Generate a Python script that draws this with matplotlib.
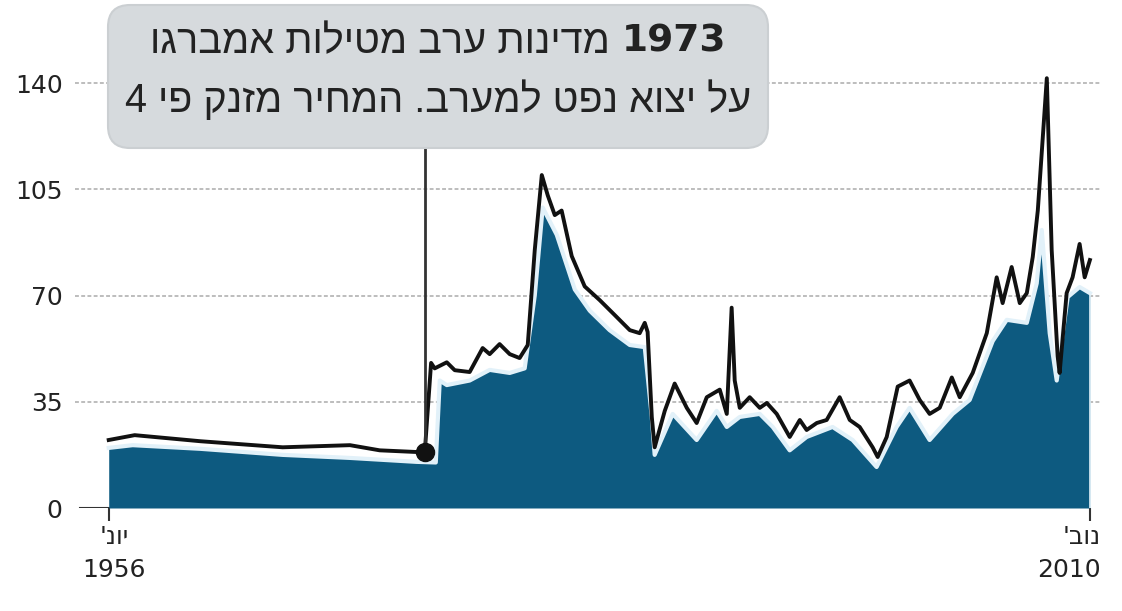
import re
import matplotlib
matplotlib.use('Agg')
import matplotlib.pyplot as plt
from matplotlib.patches import FancyBboxPatch
from matplotlib import font_manager

# oil price, black line
price_years = [1956.42, 1957.86, 1961.5, 1966.07, 1969.8, 1971.45, 1973.67, 1973.95,
               1974.3, 1974.5, 1975.17, 1975.61, 1976.44, 1977.16, 1977.55, 1978.1,
               1978.66, 1979.21, 1979.66, 1980.05, 1980.44, 1980.77, 1981.16, 1981.54,
               1982.1, 1982.82, 1983.65, 1984.48, 1985.32, 1985.87, 1986.15, 1986.31,
               1986.54, 1986.7, 1987.26, 1987.81, 1988.48, 1989.03, 1989.59, 1990.31,
               1990.7, 1990.97, 1991.14, 1991.42, 1991.97, 1992.53, 1992.92, 1993.47,
               1994.19, 1994.75, 1995.13, 1995.69, 1996.24, 1996.96, 1997.52, 1998.07,
               1998.79, 1999.07, 1999.57, 2000.18, 2000.84, 2001.4, 2001.95, 2002.51,
               2003.18, 2003.62, 2004.34, 2005.12, 2005.67, 2006.0, 2006.5, 2006.95,
               2007.34, 2007.67, 2007.95, 2008.45, 2008.72, 2009.05, 2009.16, 2009.55,
               2009.88, 2010.27, 2010.55, 2010.84]
price = [22.4, 24, 22, 20, 20.7, 19, 18.4, 18.4,
         47.8, 46, 48, 45.4, 44.8, 52.7, 50.7, 54,
         50.7, 49.4, 53.7, 85, 109.7, 103, 96.5, 98,
         83, 73, 68.5, 63.6, 58.6, 57.6, 61, 58,
         30, 20, 32, 41, 33, 28, 36.5, 39,
         31, 66, 42, 33, 36.5, 33, 34.6, 31,
         23.4, 29, 25.7, 28, 29, 36.5, 29, 26.7,
         20, 16.8, 23.4, 40, 42, 35.6, 31, 33,
         43, 36.5, 44.5, 57.6, 76, 67.5, 79.4, 67.5,
         70.8, 82.7, 98, 141.6, 85, 50, 44.5, 70.8,
         76, 87, 76, 81.7]

# smoother lower series, the filled area with the white edge
fill_years = [1956.42, 1957.75, 1961.5, 1966.07, 1969.8, 1973.5, 1974.56, 1974.78,
              1975.17, 1976.44, 1977.55, 1978.66, 1979.49, 1980.05, 1980.49, 1981.27,
              1982.27, 1983.1, 1984.2, 1985.32, 1986.15, 1986.54, 1986.7, 1987.7,
              1989.03, 1990.14, 1990.7, 1991.42, 1992.53, 1993.25, 1994.19, 1995.13,
              1996.57, 1997.68, 1999.01, 2000.12, 2000.84, 2001.95, 2003.23, 2004.17,
              2005.45, 2006.23, 2007.34, 2007.89, 2008.17, 2008.61, 2009.0, 2009.33,
              2009.61, 2010.27, 2010.84]
fill_vals = [19.8, 20.7, 19.5, 17.5, 16.5, 15.2, 15, 42,
             40.5, 42, 45.5, 44.5, 46, 70, 99, 90,
             72, 65, 58.6, 53.7, 53, 30, 17.5, 31,
             22.4, 32, 26.7, 30, 31, 26.7, 19, 23.4,
             26.7, 22.4, 13.5, 26.7, 33, 22.4, 31, 35.6,
             55, 62, 61, 74, 91.6, 57.6, 42, 57.6,
             69.5, 72.8, 70.8]

yticks = [0, 35, 70, 105, 140]
event_year = 1973.95
event_price = 18.4
start_label = "יונ'\n1956"
end_label = "נוב'\n2010"
note_year = "1973"
note_line1 = "מדינות ערב מטילות אמברגו"
note_line2 = "על יצוא נפט למערב. המחיר מזנק פי 4"


def visual(s):
    # matplotlib lays text out left to right, so flip hebrew per line and keep numbers readable
    lines = []
    for line in s.split('\n'):
        out = line[::-1]
        lines.append(re.sub(r'\d+', lambda m: m.group(0)[::-1], out))
    return '\n'.join(lines)


names = {f.name for f in font_manager.fontManager.ttflist}
narrow = 'Liberation Sans Narrow' in names
num_font = ['Liberation Sans Narrow', 'DejaVu Sans'] if narrow else ['DejaVu Sans']
num_size = 23 if narrow else 18
heb_font = ['Liberation Sans Narrow', 'Liberation Sans', 'DejaVu Sans'] if narrow else ['Liberation Sans', 'DejaVu Sans']

fill_col = '#0d5a80'
txt_col = '#222222'

fig = plt.figure(figsize=(11.22, 6.11), dpi=100)
ax = fig.add_axes([75 / 1122, 103 / 611, 1025 / 1122, 448 / 611])
ax.set_xlim(1954.55, 2011.4)
ax.set_ylim(0, 147.6)

for y in yticks[1:]:
    ax.axhline(y, color='#bdbdbd', lw=1.4, ls=(0, (2, 1.2)), zorder=1)
# short dark mark at zero, up to where the data starts
ax.plot([1954.8, price_years[0]], [0, 0], color='#333333', lw=1.5, zorder=2)

ax.fill_between(fill_years, fill_vals, 0, color=fill_col, lw=0, zorder=2)
ax.plot(fill_years, fill_vals, color='#e2f1f9', lw=3, zorder=3)
ax.plot([fill_years[-1], fill_years[-1]], [0, fill_vals[-1]], color='#e2f1f9', lw=1.2, zorder=3)
ax.plot(price_years, price, color='#111111', lw=2.8, zorder=4, solid_joinstyle='round')

# 1973 marker
ax.plot([event_year, event_year], [event_price, 118.6], color='#333333', lw=2, zorder=5, clip_on=False)
ax.plot(event_year, event_price, 'o', color='#111111', ms=13, zorder=6)

for s in ax.spines.values():
    s.set_visible(False)
ax.set_yticks(yticks)
ax.set_yticklabels([str(t) for t in yticks], family=num_font, fontsize=num_size, color=txt_col)
ax.tick_params(axis='y', length=0, pad=9)
ax.set_xticks([price_years[0], price_years[-1]])
ax.set_xticklabels([])
ax.tick_params(axis='x', length=9, width=1.5, color='#333333', direction='out')

ax.annotate(visual(start_label), xy=(price_years[0], 0), xycoords=('data', 'axes fraction'),
            xytext=(4, -12), textcoords='offset points', ha='center', va='top',
            family=num_font, fontsize=num_size, color=txt_col, linespacing=1.5)
ax.annotate(visual(end_label), xy=(price_years[-1], 0), xycoords=('data', 'axes fraction'),
            xytext=(8, -12), textcoords='offset points', ha='right', va='top',
            family=num_font, fontsize=num_size, color=txt_col, linespacing=1.5)

# callout box in inches from the figure corner
box = FancyBboxPatch((1.08, 4.63), 6.60, 1.43, boxstyle='round,pad=0,rounding_size=0.22',
                     transform=fig.dpi_scale_trans, fc='#d6dadd', ec='#cbcfd2', lw=1.5, zorder=1)
fig.add_artist(box)

box_cx = 4.38
t1 = fig.text(0, 5.69, visual(note_line1), transform=fig.dpi_scale_trans, ha='left', va='center',
              family=heb_font, fontsize=28.5, color=txt_col)
t1b = fig.text(0, 5.69, note_year, transform=fig.dpi_scale_trans, ha='left', va='center',
               family=num_font, fontsize=27, weight='bold', color=txt_col)
fig.text(box_cx, 5.11, visual(note_line2), transform=fig.dpi_scale_trans, ha='center', va='center',
         family=heb_font, fontsize=28.5, color=txt_col)

r = fig.canvas.get_renderer()
w1 = t1.get_window_extent(r).width / fig.dpi
w1b = t1b.get_window_extent(r).width / fig.dpi
gap = 0.12
left = box_cx - (w1 + gap + w1b) / 2
t1.set_x(left)
t1b.set_x(left + w1 + gap)

fig.savefig('out.png', dpi=100)
